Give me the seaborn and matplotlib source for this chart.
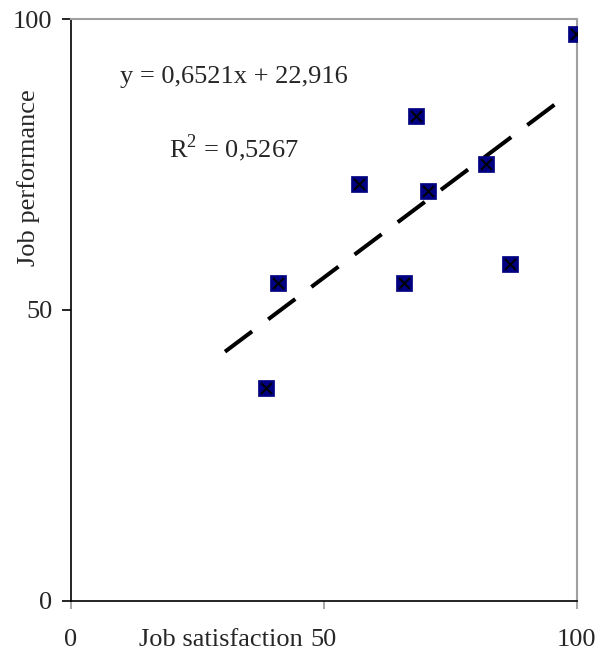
import numpy as np
import pandas as pd
import seaborn as sns
import matplotlib.pyplot as plt

satisfaction = [38.7, 41.0, 57.0, 65.9, 68.2, 70.7, 82.0, 86.8, 99.9]
performance = [36.5, 54.7, 71.6, 54.7, 83.3, 70.5, 75.1, 57.9, 97.4]
slope = 0.6521
intercept = 22.916
trend_x = [30.5, 96.4]
x_ticks = [0, 50, 100]
y_ticks = [0, 50, 100]

df = pd.DataFrame({'x': satisfaction, 'y': performance})
trend = pd.DataFrame({'x': trend_x, 'y': [slope * v + intercept for v in trend_x]})

sns.set_style('ticks')
plt.rcParams['font.family'] = ['Liberation Serif', 'DejaVu Serif']
plt.rcParams['mathtext.fontset'] = 'custom'
plt.rcParams['mathtext.rm'] = 'Liberation Serif'

fig = plt.figure(figsize=(6.02, 6.51), dpi=100)
ax = fig.add_axes([0.1174, 0.0773, 0.8405, 0.8935])

sns.lineplot(data=trend, x='x', y='y', ax=ax, color='black')
trend_line = ax.lines[-1]
trend_line.set_linewidth(2.9)
trend_line.set_dashes([8.4, 5.0])
trend_line.set_dash_capstyle('butt')

sns.scatterplot(data=df, x='x', y='y', ax=ax, marker='s', s=117,
                color='#000080', edgecolor='#000080', linewidth=0.5, zorder=3)
sns.scatterplot(data=df, x='x', y='y', ax=ax, marker='x', s=60,
                color='black', linewidth=1.4, zorder=4)

fs = 19
ax.set_xlim(0, 100)
ax.set_ylim(0, 100)
ax.set_xticks(x_ticks)
ax.set_yticks(y_ticks)
ax.tick_params(axis='both', labelsize=fs, direction='out', width=1.2)
ax.tick_params(axis='x', length=5.5, pad=15, color='#999999')
ax.tick_params(axis='y', length=6.2, pad=7, color='black')

for s in ['top', 'right']:
    ax.spines[s].set_color('#a0a0a0')
    ax.spines[s].set_linewidth(1.5)
for s in ['left', 'bottom']:
    ax.spines[s].set_color('black')
    ax.spines[s].set_linewidth(1.2)

ax.set_xlabel('Job satisfaction', fontsize=fs)
ax.xaxis.set_label_coords(0.297, -0.0675)
ax.xaxis.label.set_va('center')
ax.set_ylabel('Job performance', fontsize=fs)
ax.yaxis.set_label_coords(-0.084, 0.728)
ax.yaxis.label.set_va('center')

ax.text(0.322, 0.8895, 'y = 0,6521x + 22,916', transform=ax.transAxes,
        ha='center', va='baseline', fontsize=fs)
ax.text(0.322, 0.763, r'R$^{\mathrm{2}}$ = 0,5267', transform=ax.transAxes,
        ha='center', va='baseline', fontsize=fs)

fig.savefig('out.png', dpi=100)
